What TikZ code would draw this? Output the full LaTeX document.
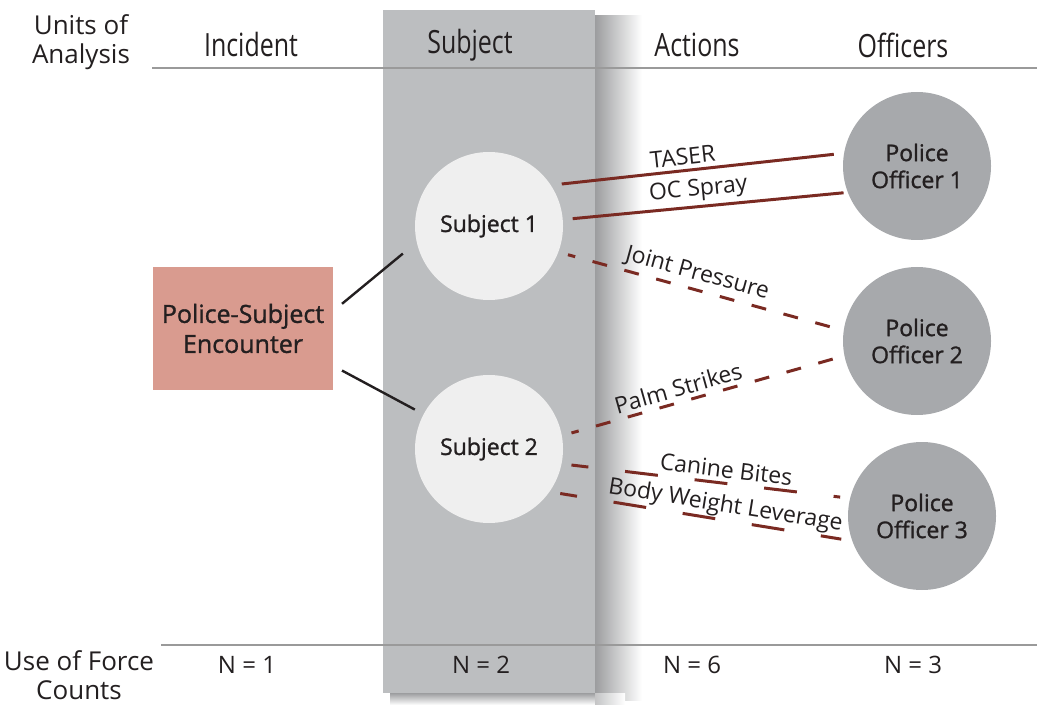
\documentclass[tikz,border=0pt]{standalone}
\usepackage{fontspec}
\setmainfont{Open Sans}
\newfontfamily\condfont{Open Sans}[FakeStretch=0.78]
\newfontfamily\semifont{Open Sans}[FakeBold=1.2]
\usetikzlibrary{calc,positioning}

\definecolor{colgray}{HTML}{BCBEC0}
\definecolor{shadowgray}{HTML}{9C9D9F}
\definecolor{subjgray}{HTML}{EFEFEF}
\definecolor{offgray}{HTML}{A7A9AC}
\definecolor{encred}{HTML}{D99B8F}
\definecolor{forcered}{HTML}{7A2A22}
\definecolor{rulegray}{HTML}{9A9A9A}
\definecolor{inkgray}{HTML}{231F20}

\tikzset{
  header/.style={font=\condfont\fontsize{16}{19}\selectfont, text=inkgray},
  count/.style={font=\fontsize{12}{14}\selectfont, text=inkgray},
  sidelabel/.style={align=center, font=\fontsize{13}{14.5}\selectfont, text=inkgray},
  subj/.style={circle, fill=subjgray, minimum size=74pt, outer sep=5pt, align=center,
    text=inkgray, font=\semifont\fontsize{11.5}{13.5}\selectfont},
  officer/.style={circle, fill=offgray, minimum size=74pt, outer sep=5pt, align=center,
    text=inkgray, font=\semifont\fontsize{11.5}{13.5}\selectfont},
  force/.style={forcered, line width=1.5pt},
  shortdash/.style={dash pattern=on 7.5pt off 9pt, dash phase=3.75pt},
  longdash/.style={dash pattern=on 16.5pt off 18.5pt, dash phase=8pt},
  action/.style={sloped, above, inner sep=2pt, text=inkgray, font=\fontsize{11.5}{14}\selectfont},
}

\begin{document}
\begin{tikzpicture}[x=0.5pt,y=-0.5pt]
  \useasboundingbox (0,0) rectangle (1037,705);

  % Subject column with its shadow
  \shade[left color=shadowgray, right color=white] (595,16) rectangle (642,700);
  \shade[top color=shadowgray, bottom color=white] (390,693) rectangle (595,705);
  \shade[left color=shadowgray!60, right color=white] (595,693) rectangle (625,705);
  \fill[colgray] (383,10) rectangle (595,693);

  % Rules
  \draw[rulegray, line width=1pt] (152,68) -- (1037,68);
  \draw[rulegray, line width=1pt] (161,645) -- (1037,645);

  % Units of analysis
  \node[sidelabel] (units) at (81,42) {Units of\\Analysis};
  \node[header] (incident) at (251,45) {Incident};
  \node[header] (subject) at (470,45) {Subject};
  \node[header] (actions) at (697,45) {Actions};
  \node[header] (officers) at (903,45) {Officers};

  % Counts
  \node[sidelabel] (useforce) at (79,675) {Use of Force\\Counts};
  \node[count] (nincident) at (247,665) {N = 1};
  \node[count] (nsubject) at (481,665) {N = 2};
  \node[count] (nactions) at (692,665) {N = 6};
  \node[count] (nofficers) at (913,665) {N = 3};

  % Encounter
  \node[fill=encred, minimum width=90pt, minimum height=61.5pt, outer sep=4.5pt,
    align=center, text=inkgray, font=\semifont\fontsize{12.5}{15}\selectfont]
    (enc) at (243,328.5) {Police-Subject\\Encounter};

  % Subjects
  \node[subj] (s1) at (489,226) {Subject 1};
  \node[subj] (s2) at (489,449) {Subject 2};

  % Officers
  \node[officer] (o1) at (917,166) {Police\\Officer 1};
  \node[officer] (o2) at (917,341) {Police\\Officer 2};
  \node[officer] (o3) at (922,516) {Police\\Officer 3};

  % Encounter to subjects
  \draw[inkgray, line width=1.2pt, shorten >=3.5pt] (enc.14) -- (s1.196);
  \draw[inkgray, line width=1.2pt] (enc.-23) -- (s2.152);

  % Actions
  \draw[force] (s1.30) -- (o1.172) node[action, pos=0.45] {TASER};
  \draw[force, shorten >=-3pt] (s1.5) -- (o1.199) node[action, pos=0.48] {OC Spray};
  \draw[force, shortdash] (s1.-20) -- (o2.171) node[action, pos=0.47] {Joint Pressure};
  \draw[force, shortdash] (s2.11) -- (o2.192) node[action, pos=0.42] {Palm Strikes};
  \draw[force, longdash] (s2.-11) -- (o3.167) node[action, pos=0.57] {Canine Bites};
  \draw[force, longdash] (s2.-32) -- (o3.196) node[action, pos=0.58, inner sep=0.5pt] {Body Weight Leverage};

\end{tikzpicture}
\end{document}
